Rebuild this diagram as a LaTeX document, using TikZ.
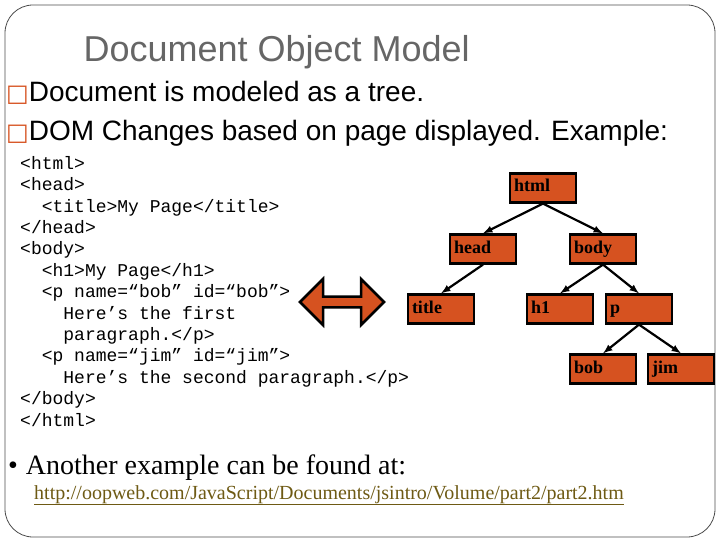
\documentclass[tikz,border=0pt]{standalone}
\usepackage{fontspec}
\setmainfont{Liberation Serif}
\setsansfont{Liberation Sans}
\setmonofont{Liberation Mono}
\newfontfamily\symfont{DejaVu Sans}
\usetikzlibrary{shapes.arrows}
\definecolor{domred}{RGB}{214,82,32}
\definecolor{linkcol}{RGB}{110,90,20}
\begin{document}
\begin{tikzpicture}[x=1pt, y=-1pt, >=latex,
    tnode/.style={draw=black, line width=2.2pt, fill=domred, minimum width=66pt, minimum height=29pt,
        text width=58pt, text height=12pt, text depth=4pt, align=left, inner sep=3pt,
        font=\fontsize{18}{18}\selectfont\bfseries},
    tedge/.style={->, line width=2.2pt}]
    \useasboundingbox (0,0) rectangle (720,540);
    \draw[black!70, line width=0.8pt, rounded corners=28pt] (5,5) rectangle (715,537);
    % ===== title and bullets
    \node[anchor=base west, gray!80!black, font=\sffamily\fontsize{36}{36}\selectfont] (ttl) at (80,62) {Document Object Model};
    \node[anchor=base west, inner sep=0pt, font=\sffamily\fontsize{28}{28}\selectfont] (b1) at (6,102)
        {{\symfont\color{domred}\fontsize{24}{24}\selectfont□}Document is modeled as a tree.};
    \node[anchor=base west, inner sep=0pt, font=\sffamily\fontsize{28}{28}\selectfont] (b2) at (6,141)
        {{\symfont\color{domred}\fontsize{24}{24}\selectfont□}DOM Changes based on page displayed. Example:};
    % ===== html source
    \node[anchor=north west, align=left, inner sep=0pt, font=\ttfamily\fontsize{18}{21.4}\selectfont] (code) at (20,156)
        {<html>\\<head>\\~~<title>My Page</title>\\</head>\\<body>\\~~<h1>My Page</h1>\\
         ~~<p name=“bob” id=“bob”>\\~~~~Here’s the first\\~~~~paragraph.</p>\\
         ~~<p name=“jim” id=“jim”>\\~~~~Here’s the second paragraph.</p>\\</body>\\</html>};
    \node[double arrow, draw=black, line width=2.5pt, fill=domred, minimum width=46pt,
        double arrow head extend=4pt, minimum height=84pt, inner sep=0pt] (dbl) at (342,302) {};
    % ===== tree
    \node[tnode] (html) at (543,188) {html};
    \node[tnode] (head) at (483,249) {head};
    \node[tnode] (body) at (603,249) {body};
    \node[tnode] (title) at (441,309) {title};
    \node[tnode] (h1) at (560,309) {h1};
    \node[tnode] (p) at (639,309) {p};
    \node[tnode] (bob) at (603,369) {bob};
    \node[tnode] (jim) at (681,369) {jim};
    \foreach \a/\b in {html/head, html/body, head/title, body/h1, body/p, p/bob, p/jim}
        \draw[tedge] (\a.south) -- (\b.north);
    % ===== footer
    \node[anchor=base west, inner sep=0pt, font=\fontsize{28}{28}\selectfont] (more) at (8,474)
        {\textbullet\hspace{8pt}Another example can be found at:};
    \node[anchor=base west, inner sep=0pt, linkcol, font=\fontsize{20}{20}\selectfont] (link) at (34,499)
        {\underline{http://oopweb.com/JavaScript/Documents/jsintro/Volume/part2/part2.htm}};
\end{tikzpicture}
\end{document}
